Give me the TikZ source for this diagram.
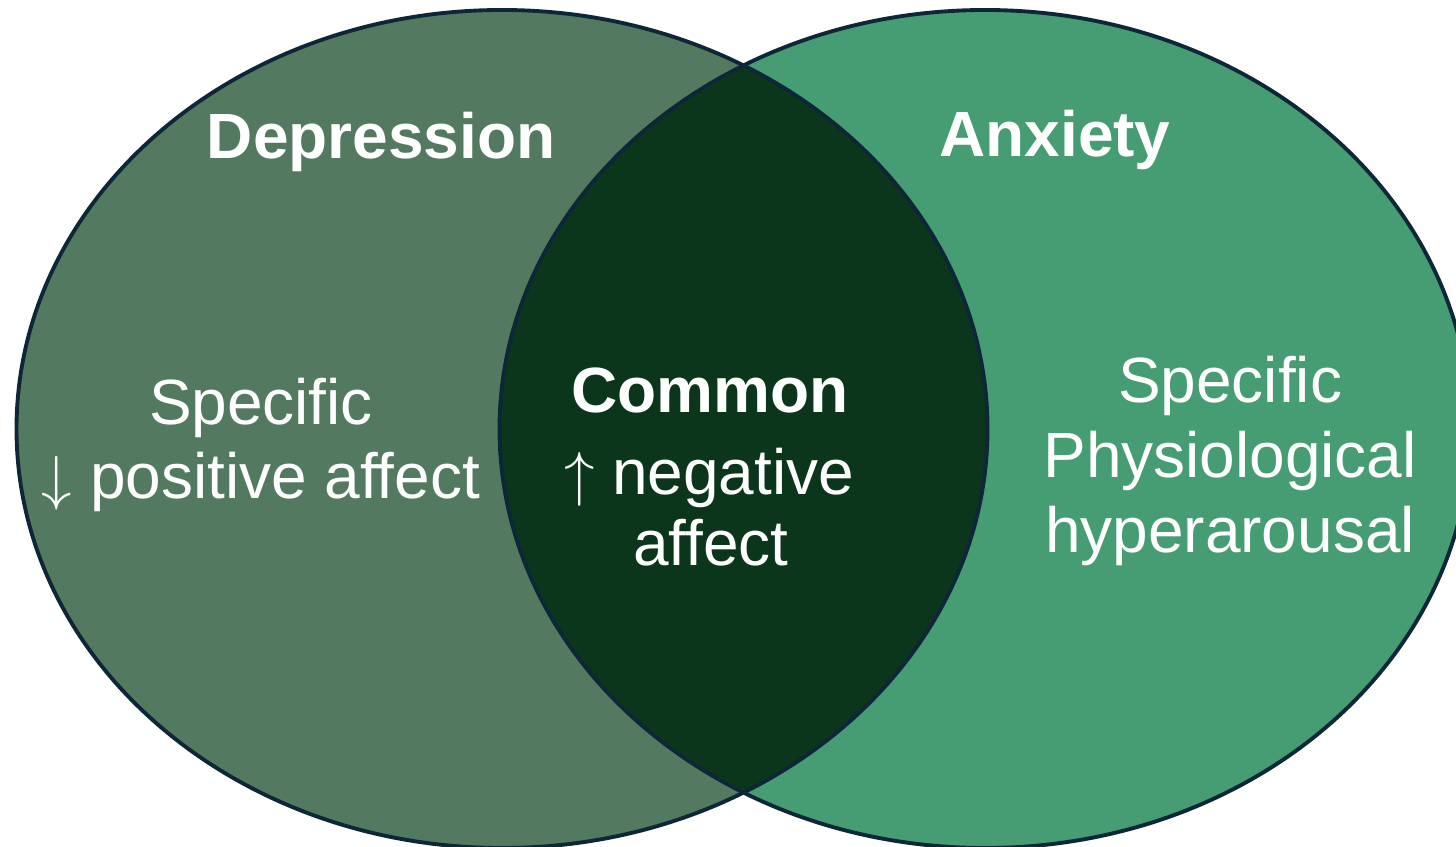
\documentclass[tikz,border=0pt]{standalone}
\usepackage{fontspec}
\setmainfont{Liberation Sans}
\definecolor{depgreen}{HTML}{537A60}
\definecolor{anxgreen}{HTML}{469C73}
\definecolor{commongreen}{HTML}{0C361C}
\definecolor{ringblue}{HTML}{0D2638}

\begin{document}
\begin{tikzpicture}[
  title/.style={text=white,anchor=base,font=\fontsize{18.2}{21.8}\selectfont\bfseries},
  body/.style={text=white,anchor=base,font=\fontsize{18.2}{21.8}\selectfont},
  ring/.style={draw=ringblue,line width=1.1pt}]
\useasboundingbox (0,0) rectangle (14.56,8.46);
\clip (0,0) rectangle (14.56,8.46);
\fill[depgreen] (5.02,4.17) ellipse (4.855 and 4.19);
\fill[anxgreen] (9.85,4.17) ellipse (4.855 and 4.19);
\begin{scope}
\clip (5.02,4.17) ellipse (4.855 and 4.19);
\fill[commongreen] (9.85,4.17) ellipse (4.855 and 4.19);
\end{scope}
\draw[ring] (5.02,4.17) ellipse (4.855 and 4.19);
\draw[ring] (9.85,4.17) ellipse (4.855 and 4.19);

\node[title] (depression) at (3.81,6.87) {Depression};
\node[title] (anxiety) at (10.55,6.89) {Anxiety};
\node[title] (common) at (7.10,4.33) {Common};

\node[body] (depspec) at (2.61,4.21) {Specific};
\node[body] (depaffect) at (2.61,3.47) {$\downarrow$ positive affect};
\node[body] (comneg) at (7.09,3.51) {$\uparrow$ negative};
\node[body] (comaffect) at (7.11,2.80) {affect};
\node[body] (anxspec) at (12.30,4.43) {Specific};
\node[body] (anxphys) at (12.30,3.68) {Physiological};
\node[body] (anxhyper) at (12.30,2.93) {hyperarousal};
\end{tikzpicture}
\end{document}
